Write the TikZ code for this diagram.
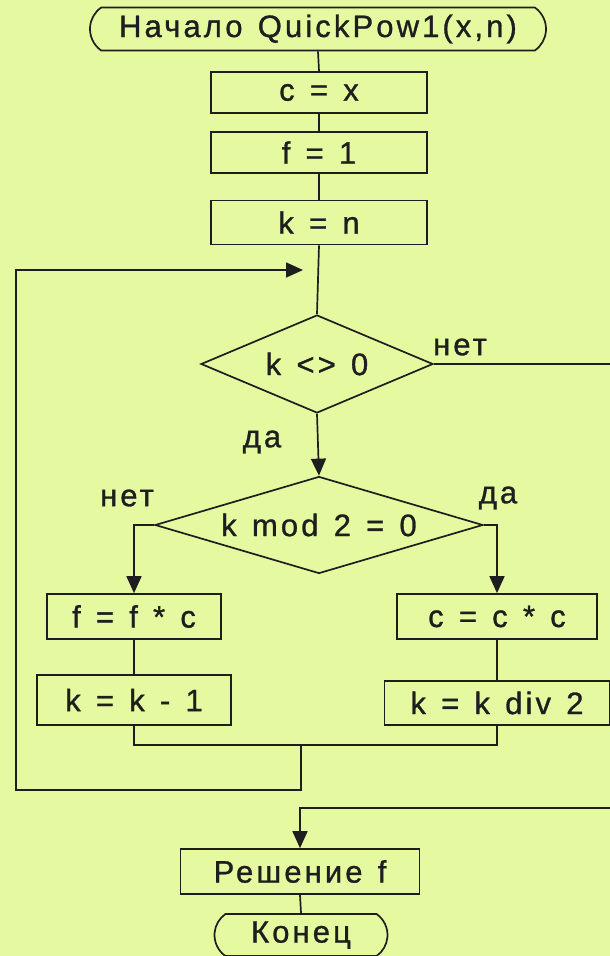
\documentclass[tikz,border=0pt]{standalone}
\usepackage{fontspec}
\setmainfont{Liberation Sans}[LetterSpace=10,WordSpace=1.3,FakeBold=1]
\usetikzlibrary{shapes.geometric,shapes.misc,arrows.meta}
\definecolor{bg}{RGB}{229,250,160}
\definecolor{ink}{RGB}{30,30,30}
\begin{document}
\begin{tikzpicture}[x=1pt,y=-1pt,
  every node/.style={font=\fontsize{31}{35}\selectfont, text=ink, inner sep=0pt},
  line/.style={draw=ink, line width=1.7pt},
  box/.style={line, rectangle},
  term/.style={line, rounded rectangle, rounded rectangle arc length=110},
  dec/.style={line, diamond},
  arr/.style={line, -{Triangle[length=17pt,width=15pt]}},
  lbl/.style={}]
\useasboundingbox (0,0) rectangle (610,956);
\fill[bg] (0,0) rectangle (610,956);
\clip (0,0) rectangle (610,956);

\node[term, minimum width=456pt, minimum height=43pt] (start) at (318,29) {Начало QuickPow1(x,n)};
\node[box, minimum width=216pt, minimum height=41pt] (cx) at (319,92.5) {c = x};
\node[box, minimum width=216pt, minimum height=41pt] (f1) at (319,152.5) {f = 1};
\node[box, minimum width=216pt, minimum height=44pt] (kn) at (319,222.5) {k = n};
\node[dec, shape aspect=2.37, minimum width=232pt, minimum height=98pt] (d1) at (317,364) {k <> 0};
\node[dec, shape aspect=3.38, minimum width=328pt, minimum height=97pt] (d2) at (319,525) {k mod 2 = 0};
\node[box, minimum width=174pt, minimum height=45pt] (ffc) at (134,616.5) {f = f * c};
\node[box, minimum width=200pt, minimum height=45pt] (ccc) at (497,616.5) {c = c * c};
\node[box, minimum width=194pt, minimum height=50pt] (kk1) at (134,700) {k = k - 1};
\node[box, minimum width=225pt, minimum height=44pt] (kdiv) at (497,703) {k = k div 2};
\node[box, minimum width=239pt, minimum height=45pt] (res) at (300,871.5) {Решение f};
\node[term, minimum width=173pt, minimum height=42pt] (fin) at (301,935) {Конец};

\node[lbl] (l1) at (460,347) {нет};
\node[lbl] (l2) at (262,442) {да};
\node[lbl] (l3) at (127,498) {нет};
\node[lbl] (l4) at (498,498) {да};

\coordinate (m) at (301,745);
\coordinate (lp) at (303,270);
\coordinate (r1) at (616,808);

\draw[line] (start.south) -- (cx.north);
\draw[line] (cx.south) -- (f1.north);
\draw[line] (f1.south) -- (kn.north);
\draw[line] (kn.south) -- (d1.north);
\draw[arr] (d1.south) -- (d2.north);
\draw[arr] (d2.west) -| (ffc.north);
\draw[arr] (d2.east) -| (ccc.north);
\draw[line] (ffc.south) -- (kk1.north);
\draw[line] (ccc.south) -- (kdiv.north);
\draw[line] (kk1.south) |- (m) -| (kdiv.south);
\draw[arr] (m) |- (16,790) |- (lp);
\draw[arr] (d1.east) -| (r1) -| (res.north);
\draw[line] (res.south) -- (fin.north);
\end{tikzpicture}
\end{document}
